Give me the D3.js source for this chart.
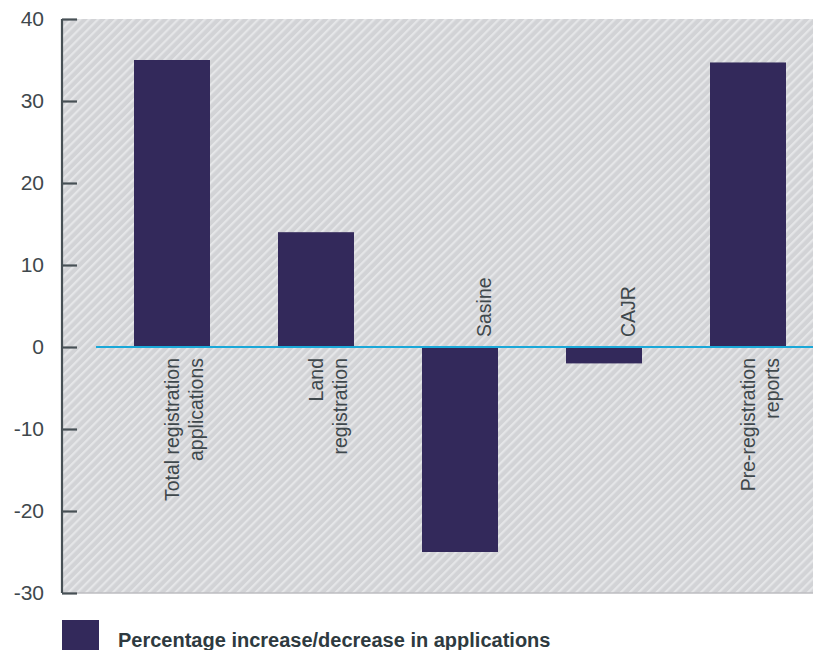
<!DOCTYPE html>
<html>
<head>
<meta charset="utf-8">
<script src="https://cdn.jsdelivr.net/npm/d3@7"></script>
<style>
  html, body { margin: 0; padding: 0; background: #ffffff; }
  svg { display: block; }
  text { font-family: "Liberation Sans", Arial, Helvetica, sans-serif; }
</style>
</head>
<body>
<div id="chart"></div>
<script>
// ---- data ----
const categories = [
  ["Total registration", "applications"],
  ["Land", "registration"],
  ["Sasine"],
  ["CAJR"],
  ["Pre-registration", "reports"]
];
const values = [35, 14, -25, -2, 34.7];
const yTicks = [40, 30, 20, 10, 0, -10, -20, -30];
const seriesName = "Percentage increase/decrease in applications";

// ---- layout ----
const W = 813, H = 650;
const svg = d3.select("#chart").append("svg").attr("width", W).attr("height", H);

const defs = svg.append("defs");
const P = 6.3;
const pat = defs.append("pattern")
  .attr("id", "hatch")
  .attr("patternUnits", "userSpaceOnUse")
  .attr("width", P).attr("height", P)
  .attr("patternTransform", "rotate(45)");
pat.append("rect").attr("width", P).attr("height", P).attr("fill", "#d2d3d6");
pat.append("rect").attr("x", 0).attr("width", 2.2).attr("height", P).attr("fill", "#e5e6e8");

const y = d3.scaleLinear().domain([-30, 40]).range([593, 19]);
const keys = categories.map((c, i) => i);
const x = d3.scaleBand().domain(keys).range([100, 820])
  .paddingInner(68 / 144).paddingOuter(34 / 144);

const axisX = 62;

// plot background
svg.append("rect")
  .attr("x", axisX).attr("y", y(40))
  .attr("width", W - axisX).attr("height", y(-30) - y(40))
  .attr("fill", "url(#hatch)");
svg.append("line")
  .attr("x1", axisX).attr("x2", W)
  .attr("y1", y(-30)).attr("y2", y(-30))
  .attr("stroke", "#bcbdc0").attr("stroke-width", 1.5);

// bars
const barColor = "#33295b";
svg.append("g").selectAll("rect").data(values).join("rect")
  .attr("x", (d, i) => x(i))
  .attr("width", x.bandwidth())
  .attr("y", d => y(Math.max(0, d)))
  .attr("height", d => Math.abs(y(d) - y(0)))
  .attr("fill", barColor);

// zero line
svg.append("line")
  .attr("x1", 96).attr("x2", W)
  .attr("y1", y(0)).attr("y2", y(0))
  .attr("stroke", "#1ba8d8").attr("stroke-width", 2);

// y axis
const yAxis = d3.axisLeft(y).tickValues(yTicks).tickSize(-15).tickPadding(18)
  .tickFormat(d => String(d));
const gy = svg.append("g").attr("transform", `translate(${axisX},0)`).call(yAxis);
gy.select(".domain").attr("stroke", "#475055").attr("stroke-width", 2.2)
  .attr("d", `M0,${y(40)}V${y(-30)}`);
gy.selectAll(".tick line").attr("stroke", "#475055").attr("stroke-width", 2.2);
gy.selectAll(".tick text")
  .attr("x", -18)
  .attr("font-size", 21)
  .attr("fill", "#3f484c")
  .attr("font-family", "Liberation Sans, Arial, sans-serif");

// category labels (rotated)
const labelColor = "#3f484c";
const lineGap = 24;
const lg = svg.append("g");
categories.forEach((lines, i) => {
  const cx = x(i) + x.bandwidth() / 2;
  const neg = values[i] < 0;
  const n = lines.length;
  lines.forEach((ln, j) => {
    const lx = cx + 24 - (n - 1 - j) * lineGap + 7;
    const ly = neg ? y(0) - 10 : y(0) + 11;
    lg.append("text")
      .attr("transform", `translate(${lx},${ly}) rotate(-90)`)
      .attr("text-anchor", neg ? "start" : "end")
      .attr("font-size", 19.5)
      .attr("fill", labelColor)
      .text(ln);
  });
});

// legend
svg.append("rect").attr("x", 62).attr("y", 620).attr("width", 37).attr("height", 37)
  .attr("fill", barColor);
svg.append("text").attr("x", 118).attr("y", 647)
  .attr("font-size", 20).attr("font-weight", "bold").attr("fill", "#2e3a40")
  .text(seriesName);
</script>
</body>
</html>
